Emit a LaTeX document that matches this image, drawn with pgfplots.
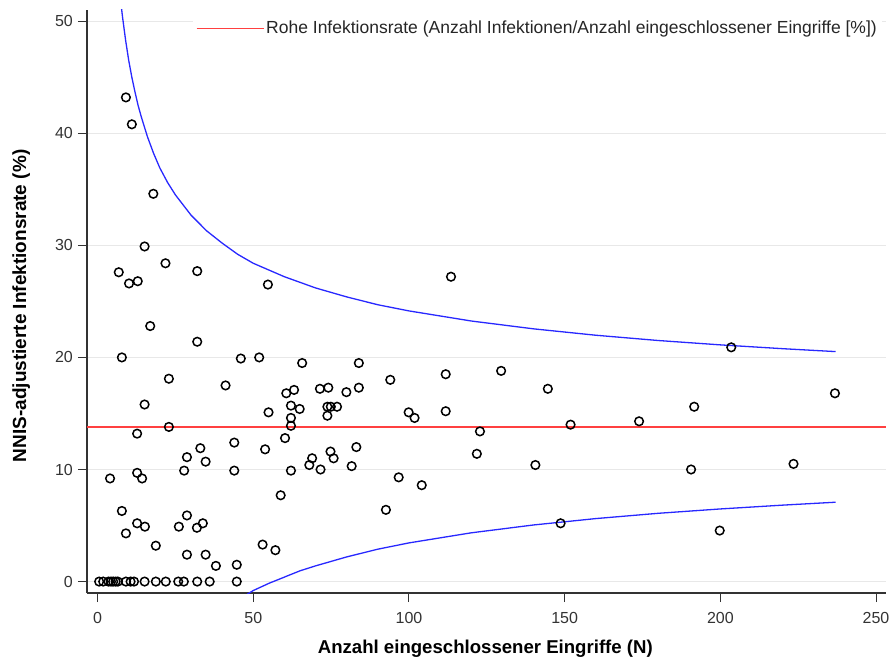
\documentclass[border=0pt]{standalone}
\usepackage{fontspec}
\setmainfont{Liberation Sans}
\usepackage{pgfplots}
\pgfplotsset{compat=1.18}
\definecolor{tickc}{RGB}{51,51,51}
\definecolor{redline}{RGB}{255,64,64}
\definecolor{funnel}{RGB}{40,40,255}
\definecolor{gridc}{RGB}{232,232,232}
\pgfplotsset{longlegend/.style={legend image code/.code={\draw[draw=redline,color=redline,line width=1.3pt] (0pt,0pt) -- (67pt,0pt);}}}
\pgfplotstableread{
x y
0.5 0
1.8 0
3.5 0
4.3 0
5.0 0
5.8 0
6.5 0
9.1 0
10.6 0
11.7 0
15.1 0
18.7 0
21.9 0
25.9 0
27.7 0
32.0 0
36.0 0
44.7 0
9.1 43.2
11.0 40.8
17.9 34.6
15.1 29.9
21.8 28.4
6.8 27.6
32.0 27.7
10.1 26.6
12.9 26.8
54.7 26.5
113.5 27.2
16.9 22.8
32.0 21.4
7.8 20.0
46.0 19.9
51.9 20.0
65.7 19.5
83.9 19.5
22.9 18.1
41.1 17.5
203.5 20.9
129.6 18.8
111.8 18.5
94.0 18.0
144.6 17.2
60.6 16.8
63.1 17.1
71.4 17.2
74.1 17.3
79.9 16.9
83.9 17.3
54.9 15.1
62.1 15.7
64.9 15.4
73.8 15.6
74.9 15.6
76.9 15.6
73.8 14.8
62.1 14.6
62.1 13.9
99.9 15.1
101.8 14.6
111.8 15.2
15.1 15.8
12.7 13.2
22.9 13.8
60.2 12.8
83.1 12.0
74.8 11.6
75.8 11.0
68.9 11.0
68.0 10.4
71.6 10.0
81.6 10.3
62.1 9.9
96.7 9.3
104.1 8.6
58.8 7.7
53.8 11.8
33.0 11.9
28.7 11.1
34.7 10.7
43.9 12.4
4.0 9.2
12.7 9.7
14.3 9.2
27.8 9.9
43.9 9.9
7.8 6.3
9.1 4.3
12.7 5.2
15.2 4.9
28.7 5.9
26.1 4.9
31.9 4.8
33.8 5.2
18.7 3.2
28.7 2.4
34.7 2.4
38.0 1.4
44.7 1.5
53.0 3.3
57.1 2.8
92.6 6.4
122.8 13.4
151.9 14.0
173.9 14.3
121.8 11.4
140.6 10.4
148.7 5.2
236.8 16.8
191.6 15.6
190.6 10.0
223.5 10.5
199.8 4.55
}\pts
\begin{document}
\fontsize{16}{19}\selectfont
\begin{tikzpicture}
\begin{axis}[name=ax, scale only axis, width=799pt, height=583pt,
  xmin=-3.4, xmax=253.2, ymin=-1.02, ymax=51,
  axis x line*=bottom, axis y line*=left,
  xtick={0,50,100,150,200,250}, ytick={0,10,20,30,40,50},
  tick align=outside, major tick length=9pt,
  ymajorgrids, grid style={color=gridc, line width=0.9pt},
  tick style={color=tickc, line width=1pt},
  axis line style={color=tickc, line width=1.4pt},
  ticklabel style={font=\fontsize{16}{19}\selectfont, text=tickc, inner sep=0pt},
  /pgf/number format/assume math mode=true,
  xticklabel style={anchor=base, yshift=-21.6pt},
  yticklabel style={anchor=east, xshift=-5pt},
  xlabel={Anzahl eingeschlossener Eingriffe (N)},
  ylabel={NNIS-adjustierte Infektionsrate (\%)},
  xlabel style={font=\fontsize{18.6}{22}\selectfont\bfseries, at={(axis description cs:0.4985,-0.1039)}, anchor=base, inner sep=0pt},
  ylabel style={font=\fontsize{19}{22}\selectfont\bfseries, at={(axis description cs:-0.0763,0.4925)}, anchor=base, inner sep=0pt},
  legend style={at={(axis description cs:1,1)}, anchor=north east, xshift=-4pt, yshift=-6.5pt,
    draw=none, fill=white, font=\fontsize{17.5}{20}\selectfont},
  legend cell align=left,
  clip=true]
\addplot[redline, line width=1.3pt, longlegend]
  coordinates {(-3.4,13.8) (253.2,13.8)};
\addlegendentry{\textcolor{black!85}{Rohe Infektionsrate (Anzahl Infektionen/Anzahl eingeschlossener Eingriffe [\%])}}
\addplot[funnel, line width=1.3pt, forget plot] coordinates {
(7,52.9) (7.5,51.6) (8,50.4) (9,48.3) (10,46.5) (11,45.0) (12,43.7) (13,42.5) (14,41.5) (16,39.7) (18,38.2) (20,36.9) (22.5,35.6) (25,34.5) (30,32.7) (35,31.3) (40,30.2) (45,29.2) (50,28.4) (60,27.2) (70,26.2) (80,25.4) (90,24.7) (100,24.15) (120,23.25) (140,22.55) (160,21.98) (180,21.51) (200,21.12) (220,20.78) (237,20.52)};
\addplot[funnel, line width=1.3pt, forget plot] coordinates {
(48,-1.14) (50,-0.8) (55,-0.16) (60,0.4) (65,0.96) (70,1.4) (80,2.2) (90,2.89) (100,3.45) (120,4.35) (140,5.05) (160,5.62) (180,6.09) (200,6.48) (220,6.82) (237,7.08)};
\addplot[only marks, mark=o, mark size=4.3pt, mark options={line width=1.5pt, black}, forget plot] table[x=x,y=y] {\pts};
\end{axis}
\pgfresetboundingbox
\path ([shift={(-87pt,-66.3pt)}]ax.south west) rectangle ([shift={(4pt,10pt)}]ax.north east);
\end{tikzpicture}
\end{document}
